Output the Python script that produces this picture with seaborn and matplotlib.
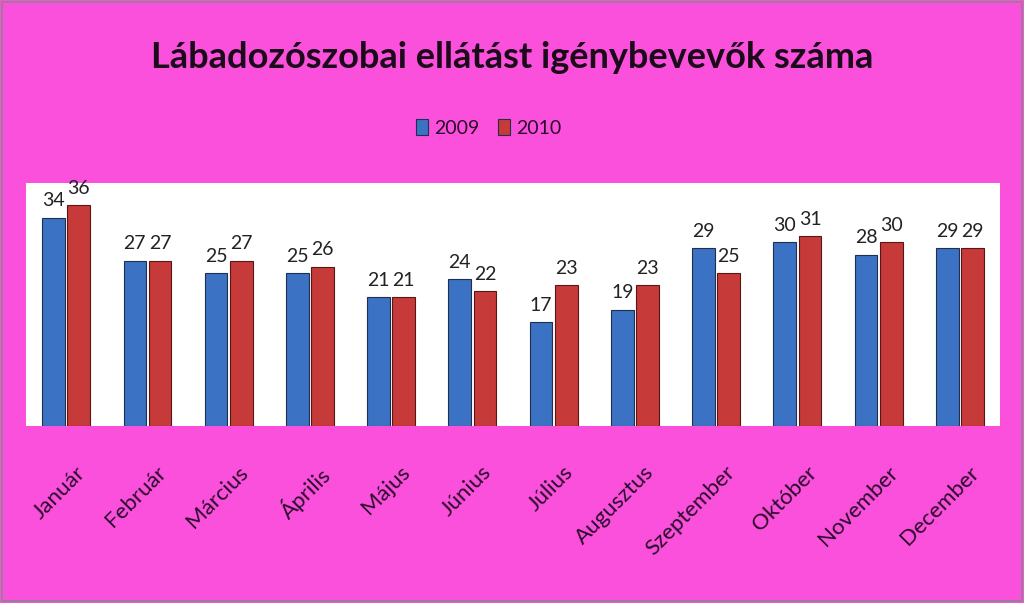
import pandas as pd
import seaborn as sns
import matplotlib.pyplot as plt
import matplotlib.transforms as mtransforms
from matplotlib.patches import Rectangle

# --- Data ---
months = ['Január', 'Február', 'Március', 'Április', 'Május', 'Június',
          'Július', 'Augusztus', 'Szeptember', 'Október', 'November', 'December']
v2009 = [34, 27, 25, 25, 21, 24, 17, 19, 29, 30, 28, 29]
v2010 = [36, 27, 27, 26, 21, 22, 23, 23, 25, 31, 30, 29]
years = ['2009', '2010']

df = pd.DataFrame({'honap': months * 2,
                   'ev': [years[0]] * 12 + [years[1]] * 12,
                   'ertek': v2009 + v2010})

bg = '#FA50DC'
txt = '#2a0a2a'

sns.set_theme(style='white')
plt.rcParams['font.family'] = ['Lato', 'DejaVu Sans']

fig = plt.figure(figsize=(10.24, 6.03), dpi=100, facecolor=bg)
ax = fig.add_axes([0.025, 0.293, 0.952, 0.404])
ax.set_facecolor('white')

sns.barplot(data=df, x='honap', y='ertek', hue='ev', ax=ax,
            palette=['#3C72C4', '#C63A3A'], width=0.62, gap=0.1,
            edgecolor='#1f2f4f', linewidth=0.8, saturation=1)
for p in ax.patches:
    if p.get_height() > 0 and p.get_facecolor()[0] > 0.5:
        p.set_edgecolor('#5a1515')

for c in ax.containers:
    ax.bar_label(c, fontsize=14, color='#222222', padding=6)

ax.set_ylim(0, 39.7)
ax.set_xlim(-0.5, 11.5)
ax.set_yticks([])
ax.set_xlabel('')
ax.set_ylabel('')
for s in ax.spines.values():
    s.set_visible(False)
ax.tick_params(axis='x', length=0, pad=26)
# nudge the slanted month names a little to the right
shift = mtransforms.ScaledTranslation(0.09, 0, fig.dpi_scale_trans)
for lbl in ax.get_xticklabels():
    lbl.set_transform(lbl.get_transform() + shift)
plt.setp(ax.get_xticklabels(), rotation=45, ha='right', rotation_mode='anchor',
         fontsize=16, color=txt)

leg = ax.legend(loc='center', bbox_to_anchor=(0.475, 1.225), ncol=2, frameon=False,
                fontsize=14, handlelength=0.6, handleheight=0.9, handletextpad=0.3,
                columnspacing=1.0, labelcolor=txt)

fig.text(0.5, 0.905, 'Lábadozószobai ellátást igénybevevők száma', ha='center', va='center',
         fontsize=26, fontweight='bold', color='#1a0a1a')

# thin grey frame round the chart
fig.patches.append(Rectangle((0.002, 0.003), 0.996, 0.994, transform=fig.transFigure,
                             fill=False, edgecolor='#888888', linewidth=1.2))

fig.savefig('out.png', dpi=100, facecolor=bg)
